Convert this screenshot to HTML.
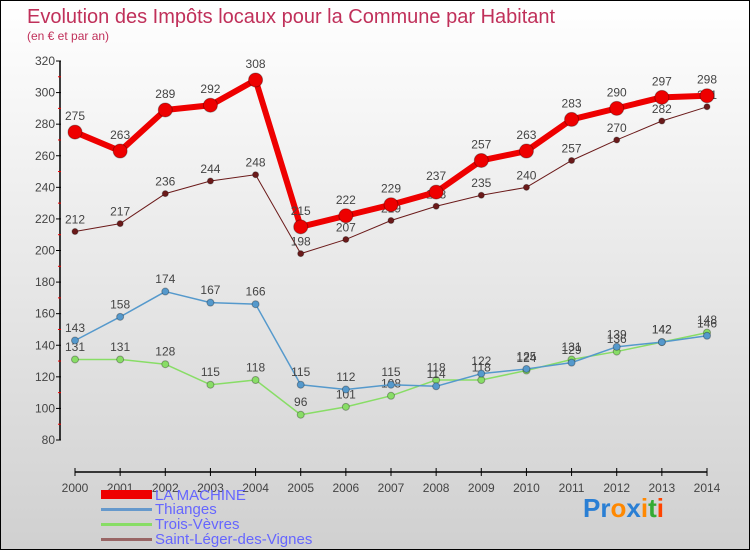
<!DOCTYPE html>
<html><head><meta charset="utf-8"><style>
body{margin:0;width:750px;height:550px;overflow:hidden;font-family:"Liberation Sans",sans-serif}
#wrap{position:relative;width:748px;height:548px;border:1px solid #000;background:linear-gradient(#ffffff,#d0d0d0)}
</style></head><body>
<div id="wrap">
<svg id="chart" width="748" height="548">
<text x="26" y="22" font-size="20" fill="#c0305a">Evolution des Impôts locaux pour la Commune par Habitant</text>
<text x="26" y="39" font-size="12" fill="#c0305a">(en € et par an)</text>
<g id="axes"></g><g id="series"></g>
<g>
<rect x="100" y="489" width="51" height="9" fill="#ee0000"/>
<text x="154" y="499" font-size="15" fill="#6666ff">LA MACHINE</text>
<rect x="100" y="507" width="51" height="3" fill="#6699cc"/>
<text x="154" y="513" font-size="15" fill="#6666ff">Thianges</text>
<rect x="100" y="522" width="51" height="3" fill="#88dd66"/>
<text x="154" y="528" font-size="15" fill="#6666ff">Trois-Vèvres</text>
<rect x="100" y="537" width="51" height="3" fill="#996666"/>
<text x="154" y="543" font-size="15" fill="#6666ff">Saint-Léger-des-Vignes</text>
</g>
<text x="582" y="516" font-size="26" font-weight="bold"><tspan fill="#2a7fd4">Pr</tspan><tspan fill="#ff8800">o</tspan><tspan fill="#2a7fd4">x</tspan><tspan fill="#ff8800">i</tspan><tspan fill="#33aa33">t</tspan><tspan fill="#ff4400">i</tspan></text>
</svg></div>
<script>
const years=[2000,2001,2002,2003,2004,2005,2006,2007,2008,2009,2010,2011,2012,2013,2014];
const yTicks=[80,100,120,140,160,180,200,220,240,260,280,300,320];
const laMachine=[275,263,289,292,308,215,222,229,237,257,263,283,290,297,298];
const thianges=[143,158,174,167,166,115,112,115,114,122,125,129,139,142,146];
const troisVevres=[131,131,128,115,118,96,101,108,118,118,124,131,136,142,148];
const saintLeger=[212,217,236,244,248,198,207,219,228,235,240,257,270,282,291];
const NS="http://www.w3.org/2000/svg";
function xS(i){return 74+i*(632/14);}
function yS(v){return 439-(v-80)*(379/240);}
function mk(tag,attrs,parent){const e=document.createElementNS(NS,tag);for(const k in attrs)e.setAttribute(k,attrs[k]);parent.appendChild(e);return e;}
const ax=document.getElementById('axes'),sg=document.getElementById('series');
let l=mk('line',{x1:59,y1:yS(320),x2:59,y2:yS(80),stroke:'#000','stroke-width':1.5},ax);


l=mk('line',{x1:74,y1:471,x2:706,y2:471,stroke:'#000','stroke-width':1.5},ax);


yTicks.forEach(v=>{
 mk('line',{x1:55,y1:yS(v),x2:60,y2:yS(v),stroke:'#000'},ax);
 if(v<320)mk('line',{x1:57,y1:yS(v+10),x2:60,y2:yS(v+10),stroke:'#e00'},ax);
 const t=mk('text',{x:54,y:yS(v)+4,'font-size':12,'text-anchor':'end',fill:'#444'},ax);t.textContent=v;
 
 
});
years.forEach((y,i)=>{
 mk('line',{x1:xS(i),y1:467,x2:xS(i),y2:475,stroke:'#000'},ax);
 const t=mk('text',{x:xS(i),y:491,'font-size':12,'text-anchor':'middle',fill:'#444'},ax);t.textContent=y;
 
 
});
function series(data,color,w,r,name){
 const g=mk('g',{},sg);
 
 
 mk('polyline',{points:data.map((v,i)=>xS(i)+','+yS(v)).join(' '),fill:'none',stroke:color,'stroke-width':w,'stroke-linejoin':'round'},g);
 data.forEach((v,i)=>{
  const c=mk('circle',{cx:xS(i),cy:yS(v),r:r,fill:color,stroke:'rgba(0,0,0,0.3)'},g);
  
  
  const t=mk('text',{x:xS(i),y:yS(v)-(r+5),'font-size':12,'text-anchor':'middle',fill:'#444'},g);t.textContent=v;
  
  
 });
}
series(saintLeger,'#6b1a1a',1,3,'saint-leger');
series(troisVevres,'#88dd66',1.5,3.5,'trois-vevres');
series(thianges,'#5599cc',1.5,3.5,'thianges');
series(laMachine,'#ee0000',6,7,'la-machine');
</script>
</body></html>
